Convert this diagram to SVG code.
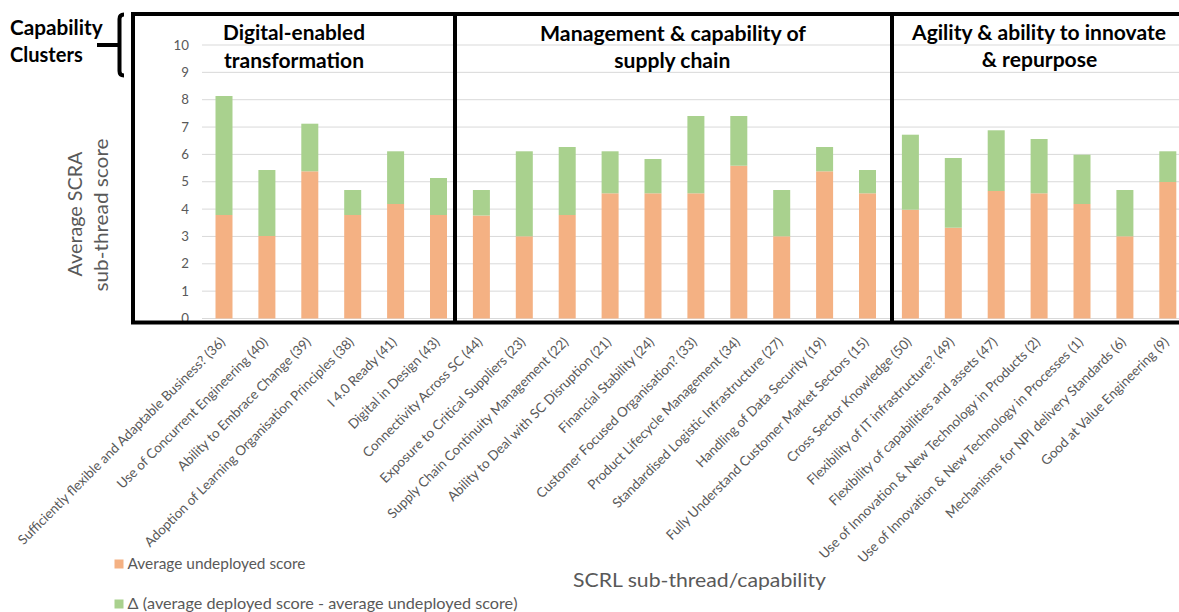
<svg xmlns="http://www.w3.org/2000/svg" width="1179" height="612" viewBox="0 0 1179 612">
<style>
.grid{stroke:#D9D9D9;stroke-width:1;}
.o{fill:#F4B183;}
.g{fill:#A9D18E;}
.tick{font-family:Lato,"Liberation Sans",sans-serif;font-size:13.3px;fill:#595959;text-anchor:end;}
.lbl{font-family:Lato,"Liberation Sans",sans-serif;font-size:13.45px;fill:#595959;text-anchor:end;}
.ttl{font-family:Lato,"Liberation Sans",sans-serif;font-weight:bold;font-size:20px;fill:#000;text-anchor:middle;}
.cap{font-family:Lato,"Liberation Sans",sans-serif;font-weight:bold;font-size:20px;fill:#000;}
.axt{font-family:Lato,"Liberation Sans",sans-serif;font-size:20px;fill:#595959;}
.leg{font-family:Lato,"Liberation Sans",sans-serif;font-size:15px;fill:#595959;}
.frame{fill:none;stroke:#000;stroke-width:4;}
</style>
<rect width="1179" height="612" fill="#fff"/>
<g id="gridlines">
<line class="grid" x1="202" y1="318.5" x2="1179" y2="318.5"/>
<line class="grid" x1="202" y1="291.15" x2="1179" y2="291.15"/>
<line class="grid" x1="202" y1="263.8" x2="1179" y2="263.8"/>
<line class="grid" x1="202" y1="236.45" x2="1179" y2="236.45"/>
<line class="grid" x1="202" y1="209.1" x2="1179" y2="209.1"/>
<line class="grid" x1="202" y1="181.75" x2="1179" y2="181.75"/>
<line class="grid" x1="202" y1="154.4" x2="1179" y2="154.4"/>
<line class="grid" x1="202" y1="127.05" x2="1179" y2="127.05"/>
<line class="grid" x1="202" y1="99.7" x2="1179" y2="99.7"/>
<line class="grid" x1="202" y1="72.35" x2="1179" y2="72.35"/>
<line class="grid" x1="202" y1="45" x2="1179" y2="45"/>
</g>
<g id="y-ticks">
<text class="tick" x="189" y="323">0</text>
<text class="tick" x="189" y="295.6">1</text>
<text class="tick" x="189" y="268.3">2</text>
<text class="tick" x="189" y="240.9">3</text>
<text class="tick" x="189" y="213.6">4</text>
<text class="tick" x="189" y="186.2">5</text>
<text class="tick" x="189" y="158.9">6</text>
<text class="tick" x="189" y="131.5">7</text>
<text class="tick" x="189" y="104.2">8</text>
<text class="tick" x="189" y="76.8">9</text>
<text class="tick" x="189" y="49.5">10</text>
</g>
<g id="bars">
<rect class="o" x="215.5" y="215" width="17" height="103.5"/><rect class="g" x="215.5" y="96" width="17" height="119"/>
<rect class="o" x="258.4" y="236" width="17" height="82.5"/><rect class="g" x="258.4" y="170" width="17" height="66"/>
<rect class="o" x="301.3" y="171.3" width="17" height="147.2"/><rect class="g" x="301.3" y="123.7" width="17" height="47.6"/>
<rect class="o" x="344.2" y="215" width="17" height="103.5"/><rect class="g" x="344.2" y="190" width="17" height="25"/>
<rect class="o" x="387.1" y="204" width="17" height="114.5"/><rect class="g" x="387.1" y="151.3" width="17" height="52.7"/>
<rect class="o" x="430" y="215" width="17" height="103.5"/><rect class="g" x="430" y="178" width="17" height="37"/>
<rect class="o" x="472.9" y="215.5" width="17" height="103"/><rect class="g" x="472.9" y="190" width="17" height="25.5"/>
<rect class="o" x="515.8" y="236.3" width="17" height="82.2"/><rect class="g" x="515.8" y="151.3" width="17" height="85"/>
<rect class="o" x="558.7" y="215" width="17" height="103.5"/><rect class="g" x="558.7" y="147" width="17" height="68"/>
<rect class="o" x="601.6" y="193.3" width="17" height="125.2"/><rect class="g" x="601.6" y="151.3" width="17" height="42"/>
<rect class="o" x="644.5" y="193.3" width="17" height="125.2"/><rect class="g" x="644.5" y="159" width="17" height="34.3"/>
<rect class="o" x="687.4" y="193.3" width="17" height="125.2"/><rect class="g" x="687.4" y="116" width="17" height="77.3"/>
<rect class="o" x="730.3" y="165.7" width="17" height="152.8"/><rect class="g" x="730.3" y="116" width="17" height="49.7"/>
<rect class="o" x="773.2" y="236.3" width="17" height="82.2"/><rect class="g" x="773.2" y="190" width="17" height="46.3"/>
<rect class="o" x="816.1" y="171.3" width="17" height="147.2"/><rect class="g" x="816.1" y="147" width="17" height="24.3"/>
<rect class="o" x="859" y="193.3" width="17" height="125.2"/><rect class="g" x="859" y="170" width="17" height="23.3"/>
<rect class="o" x="901.9" y="209.7" width="17" height="108.8"/><rect class="g" x="901.9" y="134.7" width="17" height="75"/>
<rect class="o" x="944.8" y="227.7" width="17" height="90.8"/><rect class="g" x="944.8" y="158" width="17" height="69.7"/>
<rect class="o" x="987.7" y="191" width="17" height="127.5"/><rect class="g" x="987.7" y="130.3" width="17" height="60.7"/>
<rect class="o" x="1030.6" y="193.3" width="17" height="125.2"/><rect class="g" x="1030.6" y="139" width="17" height="54.3"/>
<rect class="o" x="1073.5" y="204" width="17" height="114.5"/><rect class="g" x="1073.5" y="154.7" width="17" height="49.3"/>
<rect class="o" x="1116.4" y="236.3" width="17" height="82.2"/><rect class="g" x="1116.4" y="190" width="17" height="46.3"/>
<rect class="o" x="1159.3" y="182" width="17" height="136.5"/><rect class="g" x="1159.3" y="151.3" width="17" height="30.7"/>
</g>
<g id="category-labels">
<text class="lbl" transform="translate(226,343) rotate(-45)">Sufficiently flexible and Adaptable Business? (36)</text>
<text class="lbl" transform="translate(268.9,343) rotate(-45)">Use of Concurrent Engineering (40)</text>
<text class="lbl" transform="translate(311.8,343) rotate(-45)">Ability to Embrace Change (39)</text>
<text class="lbl" transform="translate(354.7,343) rotate(-45)">Adoption of Learning Organisation Principles (38)</text>
<text class="lbl" transform="translate(397.6,343) rotate(-45)">I 4.0 Ready (41)</text>
<text class="lbl" transform="translate(440.5,343) rotate(-45)">Digital in Design (43)</text>
<text class="lbl" transform="translate(483.4,343) rotate(-45)">Connectivity Across SC (44)</text>
<text class="lbl" transform="translate(526.3,343) rotate(-45)">Exposure to Critical Suppliers (23)</text>
<text class="lbl" transform="translate(569.2,343) rotate(-45)">Supply Chain Continuity Management (22)</text>
<text class="lbl" transform="translate(612.1,343) rotate(-45)">Ability to Deal with SC Disruption (21)</text>
<text class="lbl" transform="translate(655,343) rotate(-45)">Financial Stability (24)</text>
<text class="lbl" transform="translate(697.9,343) rotate(-45)">Customer Focused Organisation? (33)</text>
<text class="lbl" transform="translate(740.8,343) rotate(-45)">Product Lifecycle Management (34)</text>
<text class="lbl" transform="translate(783.7,343) rotate(-45)">Standardised Logistic Infrastructure (27)</text>
<text class="lbl" transform="translate(826.6,343) rotate(-45)">Handling of Data Security (19)</text>
<text class="lbl" transform="translate(869.5,343) rotate(-45)">Fully Understand Customer Market Sectors (15)</text>
<text class="lbl" transform="translate(912.4,343) rotate(-45)">Cross Sector Knowledge (50)</text>
<text class="lbl" transform="translate(955.3,343) rotate(-45)">Flexibility of IT infrastructure? (49)</text>
<text class="lbl" transform="translate(998.2,343) rotate(-45)">Flexibility of capabilities and assets (47)</text>
<text class="lbl" transform="translate(1041.1,343) rotate(-45)">Use of Innovation &amp; New Technology in Products (2)</text>
<text class="lbl" transform="translate(1084,343) rotate(-45)">Use of Innovation &amp; New Technology in Processes (1)</text>
<text class="lbl" transform="translate(1126.9,343) rotate(-45)">Mechanisms for NPI delivery Standards (6)</text>
<text class="lbl" transform="translate(1169.8,343) rotate(-45)">Good at Value Engineering (9)</text>
</g>
<g id="cluster-frames">
<rect class="frame" x="133" y="14" width="1060" height="308.5"/>
<line class="frame" x1="455" y1="14" x2="455" y2="322.5"/>
<line class="frame" x1="892" y1="14" x2="892" y2="322.5"/>
</g>
<g id="cluster-digital">
<text class="ttl" x="294" y="40" textLength="142" lengthAdjust="spacingAndGlyphs">Digital-enabled</text>
<text class="ttl" x="294" y="67.5" textLength="140" lengthAdjust="spacingAndGlyphs">transformation</text>
</g>
<g id="cluster-management">
<text class="ttl" x="673" y="40.5" textLength="266" lengthAdjust="spacingAndGlyphs">Management &amp; capability of</text>
<text class="ttl" x="672.3" y="67.5" textLength="116" lengthAdjust="spacingAndGlyphs">supply chain</text>
</g>
<g id="cluster-agility">
<text class="ttl" x="1039" y="40" textLength="254" lengthAdjust="spacingAndGlyphs">Agility &amp; ability to innovate</text>
<text class="ttl" x="1039.5" y="67" textLength="115.6" lengthAdjust="spacingAndGlyphs">&amp; repurpose</text>
</g>
<g id="capability-clusters-label">
<text class="cap" x="10" y="35" textLength="92.7" lengthAdjust="spacingAndGlyphs">Capability</text>
<text class="cap" x="10" y="62.3" textLength="72.7" lengthAdjust="spacingAndGlyphs">Clusters</text>
</g>
<g id="connectors">
<path d="M124,14.5 Q119.5,14.5 119.5,19 V71 Q119.5,75.5 124,75.5" fill="none" stroke="#000" stroke-width="4"/>
<line x1="97" y1="45" x2="119.5" y2="45" stroke="#000" stroke-width="4"/>
</g>
<g id="axis-titles">
<text class="axt" transform="translate(81.5,214) rotate(-90)" text-anchor="middle" textLength="125" lengthAdjust="spacingAndGlyphs">Average SCRA</text>
<text class="axt" transform="translate(108,215) rotate(-90)" text-anchor="middle" textLength="153" lengthAdjust="spacingAndGlyphs">sub-thread score</text>
<text class="axt" x="573" y="587" textLength="253" lengthAdjust="spacingAndGlyphs">SCRL sub-thread/capability</text>
</g>
<g id="legend">
<rect class="o" x="114.5" y="559.5" width="9" height="9"/>
<text class="leg" x="127.5" y="568.5" textLength="178" lengthAdjust="spacingAndGlyphs">Average undeployed score</text>
<rect class="g" x="114.5" y="599.5" width="9" height="9"/>
<text class="leg" x="127.5" y="608.5" textLength="390" lengthAdjust="spacingAndGlyphs">Δ (average deployed score - average undeployed score)</text>
</g>
</svg>
